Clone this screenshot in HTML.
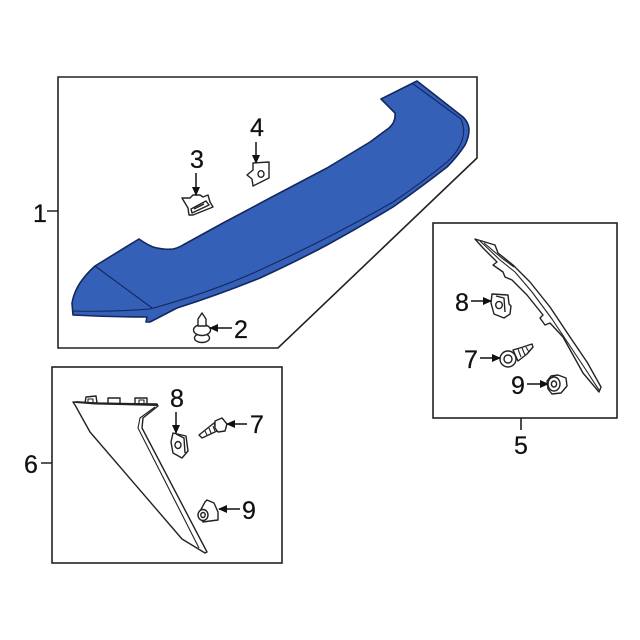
<!DOCTYPE html>
<html>
<head>
<meta charset="utf-8">
<style>
html,body{margin:0;padding:0;background:#fff;}
svg{display:block;}
text{font-family:"Liberation Sans",sans-serif;font-size:25px;fill:#111;stroke:#111;stroke-width:0.25;text-anchor:middle;}
</style>
</head>
<body>
<svg width="640" height="640" viewBox="0 0 640 640" xmlns="http://www.w3.org/2000/svg">
<defs>
<marker id="a" markerWidth="9" markerHeight="9" refX="8" refY="4.5" orient="auto" markerUnits="userSpaceOnUse">
<path d="M0,0.5 L9,4.5 L0,8.5 Z" fill="#111"/>
</marker>
</defs>
<rect width="640" height="640" fill="#fff"/>

<!-- frames -->
<g fill="none" stroke="#222" stroke-width="1.6">
<path d="M58,77 H477 V158 L278,348 H58 Z"/>
<rect x="433" y="223" width="184" height="195"/>
<rect x="52" y="367" width="230" height="196"/>
<path d="M47,211 H58 M41,463 H52 M521,418 V430"/>
</g>

<!-- spoiler -->
<path d="M73,315 L72,303 Q74,292 80,283 Q86,274 95,266 L139,239 Q146,244 153,247 Q164,250 173,249 Q178,248 183,245 L223,223 L270,198 L327,168 L370,142 L389,128 Q396,122 395,113 L381,99 L417,81 L463,117 Q469,123 469,130 Q469,137 465,145 Q457,157 447,167 Q420,188 393,207 Q360,227 327,245 Q295,262 260,278 Q218,295 177,308 L150,322 L146,322 L147,317 Q110,317 73,315 Z" fill="#3560b8" stroke="#14275e" stroke-width="1.6" stroke-linejoin="round"/>
<g fill="none" stroke="#14275e" stroke-width="1.1">
<path d="M95,266 L152,308"/>
<path d="M73,311 Q112,312 150,309 Q212,292 260,270 Q330,238 393,202 Q420,184 447,162 Q460,150 463,137 Q465,128 461,119 L412,83"/>
</g>

<!-- 2 clip -->
<g fill="#fff" stroke="#222" stroke-width="1.4" stroke-linejoin="round">
<ellipse cx="202" cy="338" rx="7.5" ry="4.5"/>
<ellipse cx="202" cy="330" rx="8.5" ry="5.5"/>
<path d="M198,326 V319 L202,313 L206,319 V326 Z"/>
</g>

<!-- 3 clip -->
<g fill="#fff" stroke="#222" stroke-width="1.4" stroke-linejoin="round">
<path d="M182,198 L190,198 L193,195 L200,195 L203,197 L208,195 L210,202 L213,207 L193,215 L189,215 L188,208 Z"/>
<path d="M191,209 L206,201 L209,205 L192,213 Z"/>
<path d="M194,209 L204,204" fill="none"/>
</g>

<!-- 4 nut -->
<g fill="#fff" stroke="#222" stroke-width="1.4" stroke-linejoin="round">
<path d="M247,175 L253,170 L253,163 L269,162 L269,178 L253,186 L252,179 Z"/>
<ellipse cx="261" cy="174" rx="3" ry="3.3"/>
</g>

<!-- part 5 strip -->
<g fill="#fff" stroke="#222" stroke-width="1.4" stroke-linejoin="round">
<path d="M475,239 L495,245 L498,253 L513,265 L530,282 L550,307 L570,337 L587,362 L601,387 L599,392 L583,373 L563,337 L550,323 L545,325 L540,318 L543,315 L527,295 L512,280 L505,277 L503,272 L493,265 L497,262 L483,248 Z"/>
<path d="M480,241 L500,260 L515,272 L532,292 L552,319 L570,346 L586,370 L599,390" fill="none" stroke-width="1.1"/>
<path d="M484,243 L503,259 L514,267" fill="none" stroke-width="1.1"/>
</g>

<!-- 8 right -->
<g fill="#fff" stroke="#222" stroke-width="1.4" stroke-linejoin="round">
<path d="M492,294 L508,295 L509,304 L511,306 L510,314 L504,318 L494,314 L491,303 Z"/>
<ellipse cx="499" cy="305" rx="3.3" ry="3.6"/>
<path d="M496,296 L504,298 L505,312" fill="none"/>
</g>

<!-- 7 right bolt -->
<g fill="#fff" stroke="#222" stroke-width="1.4" stroke-linejoin="round">
<path d="M513,350 L523,347 L532,344 L533,347 L527,354 L518,361 Z"/>
<path d="M518,349 L521,357 M522,348 L525,355 M526,347 L529,352" fill="none" stroke-width="1.1"/>
<circle cx="508" cy="359" r="8"/>
<circle cx="508" cy="359" r="4"/>
</g>

<!-- 9 right nut -->
<g fill="#fff" stroke="#222" stroke-width="1.4" stroke-linejoin="round">
<path d="M551,376 L558,375 L566,378 L567,386 L561,393 L552,394 L548,389 L547,381 Z"/>
<ellipse cx="554" cy="384" rx="6" ry="7"/>
<ellipse cx="554" cy="384" rx="2.6" ry="3"/>
</g>

<!-- part 6 panel -->
<g fill="#fff" stroke="#222" stroke-width="1.4" stroke-linejoin="round">
<path d="M85,403 L86,397 L96,396 L97,403 Z"/>
<path d="M108,405 V398 H120 V405 Z"/>
<path d="M135,405 V398 H147 V405 Z"/>
<path d="M73,402 L75,405 L90,432 L182,539 L205,553 L207,552 L142,428 L143,418 L158,406 L157,404 L95,403 Z"/>
<path d="M155,407 L140,418 L138,428 L199,548" fill="none" stroke-width="1.1"/>
<path d="M88,399 H93 V403 H88 Z M139,400 H144 V404 H139 Z" fill="none" stroke-width="1.1"/>
<path d="M76,402 L95,403.5 L157,405" fill="none" stroke-width="1.9"/>
</g>

<!-- 8 left -->
<g fill="#fff" stroke="#222" stroke-width="1.4" stroke-linejoin="round">
<path d="M173,433 L186,436 L188,451 L182,458 L173,453 L171,442 Z"/>
<ellipse cx="178" cy="445" rx="3" ry="3.5"/>
<path d="M176,434 L184,438 L185,453" fill="none"/>
</g>

<!-- 7 left bolt -->
<g fill="#fff" stroke="#222" stroke-width="1.4" stroke-linejoin="round">
<path d="M199,435 L202,438 L217,431 L214,423 Z"/>
<path d="M205,431 L207,435 M209,428 L211,433 M213,426 L215,431" fill="none" stroke-width="1.1"/>
<path d="M215,421 L222,418 L227,424 L225,431 L218,432 L215,428 Z"/>
</g>

<!-- 9 left -->
<g fill="#fff" stroke="#222" stroke-width="1.4" stroke-linejoin="round">
<path d="M205,502 L207,500 L214,503 L218,512 L218,520 L210,521 L203,522 L198,515 Z"/>
<ellipse cx="203" cy="515" rx="5" ry="5.5"/>
<ellipse cx="203" cy="515" rx="2.2" ry="2.5"/>
</g>

<!-- arrows -->
<g stroke="#111" stroke-width="1.5" fill="none">
<path d="M232,328 H210" marker-end="url(#a)"/>
<path d="M196,173 V195" marker-end="url(#a)"/>
<path d="M256,142 V163" marker-end="url(#a)"/>
<path d="M176,412 V433" marker-end="url(#a)"/>
<path d="M247,424 H227" marker-end="url(#a)"/>
<path d="M240,509 H219" marker-end="url(#a)"/>
<path d="M471,301 H491" marker-end="url(#a)"/>
<path d="M480,358 H500" marker-end="url(#a)"/>
<path d="M527,384 H548" marker-end="url(#a)"/>
</g>

<!-- labels -->
<text x="40" y="222">1</text>
<text x="241" y="338">2</text>
<text x="197" y="168">3</text>
<text x="257" y="136">4</text>
<text x="521" y="454">5</text>
<text x="31" y="473">6</text>
<text x="257" y="433">7</text>
<text x="177" y="407">8</text>
<text x="249" y="519">9</text>
<text x="462" y="311">8</text>
<text x="471" y="368">7</text>
<text x="518" y="394">9</text>
</svg>
</body>
</html>
